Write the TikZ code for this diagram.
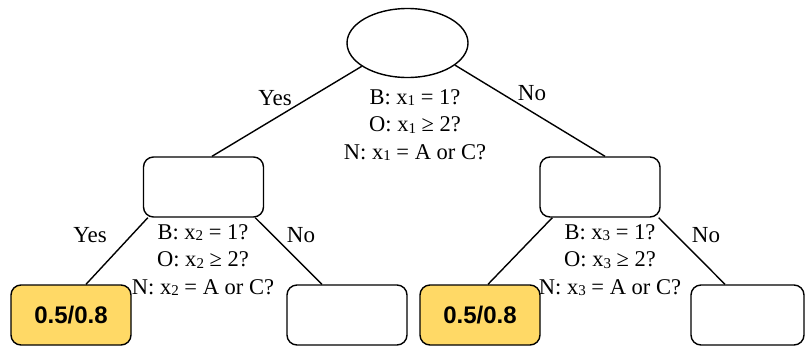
\documentclass[tikz,border=0pt]{standalone}
\usepackage{fontspec}
\setmainfont{Liberation Serif}
\newfontfamily\boxfont{Liberation Sans}
\usetikzlibrary{shapes.geometric}
\definecolor{leafyellow}{HTML}{FFD966}
\tikzset{
  x=1pt, y=-1pt,
  edge/.style={line width=1.4pt},
  box/.style={draw, line width=1.4pt, rounded corners=10pt, minimum width=120pt, minimum height=60pt, inner sep=0pt},
  leaf/.style={box, fill=leafyellow, font=\boxfont\bfseries\fontsize{24}{26}\selectfont},
  cond/.style={align=center, inner sep=0pt, font=\fontsize{22.5}{27.5}\selectfont},
  lbl/.style={inner sep=0pt, font=\fontsize{23}{25}\selectfont},
}
\newcommand{\xs}[1]{x{\fontsize{15}{15}\selectfont\raisebox{-1.5pt}{#1}}}
\begin{document}
\begin{tikzpicture}
\useasboundingbox (0,0) rectangle (806,349);
\node[draw, ellipse, line width=1.4pt, minimum width=121pt, minimum height=69pt, inner sep=0pt] (root) at (407.5,43) {};
\node[box] (lmid) at (203.5,187) {};
\node[box] (rmid) at (600,187) {};
\node[leaf] (ll) at (71,315) {0.5/0.8};
\node[box] (lr) at (347,315) {};
\node[leaf] (rl) at (480,315) {0.5/0.8};
\node[box, minimum width=113pt] (rr) at (747.5,315) {};

\draw[edge] (root.207) -- ([xshift=8.5pt]lmid.north);
\draw[edge] (root.335) -- ([xshift=5pt]rmid.north);
\draw[edge] ([xshift=5pt]lmid.south west) -- ([xshift=15pt]ll.north);
\draw[edge] ([xshift=-9pt]lmid.south east) -- ([xshift=-25pt]lr.north);
\draw[edge] ([xshift=13pt]rmid.south west) -- ([xshift=8pt]rl.north);
\draw[edge] ([xshift=-2pt]rmid.south east) -- ([xshift=-22.5pt]rr.north);

\node[cond] (c1) at (415,125) {B: \xs{1} = 1?\\O: \xs{1} ≥ 2?\\N: \xs{1} = A or C?};
\node[cond] (c2) at (203,260) {B: \xs{2} = 1?\\O: \xs{2} ≥ 2?\\N: \xs{2} = A or C?};
\node[cond] (c3) at (610,260) {B: \xs{3} = 1?\\O: \xs{3} ≥ 2?\\N: \xs{3} = A or C?};

\node[lbl] (y1) at (275,98) {Yes};
\node[lbl] (n1) at (532,93) {No};
\node[lbl] (y2) at (90,235) {Yes};
\node[lbl] (n2) at (301,235) {No};
\node[lbl] (n3) at (706,235) {No};
\end{tikzpicture}
\end{document}
